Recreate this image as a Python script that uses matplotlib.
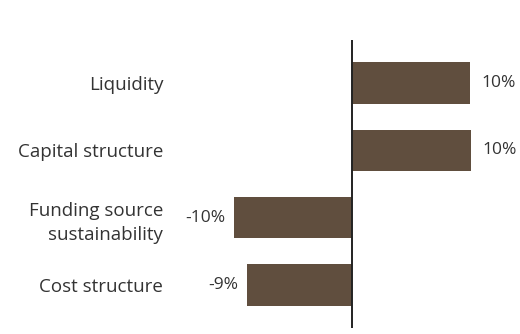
import matplotlib.pyplot as plt

categories = ['Liquidity', 'Capital structure', 'Funding source\nsustainability', 'Cost structure']
values = [10.0, 10.1, -10.0, -8.9]
value_labels = ['10%', '10%', '-10%', '-9%']

plt.rcParams['font.family'] = ['Open Sans', 'DejaVu Sans']

fig = plt.figure(figsize=(5.2, 3.34), dpi=100)
ax = fig.add_axes([180 / 520, 6 / 334, 340 / 520, 288 / 334])

pos = list(range(len(categories)))
bars = ax.barh(pos, values, height=0.61, color='#604e3e')
ax.axvline(0, color='#222222', linewidth=1.4)

for b, v, lab in zip(bars, values, value_labels):
    y = b.get_y() + b.get_height() / 2
    if v >= 0:
        ax.annotate(lab, (v, y), xytext=(8, 0), textcoords='offset points',
                    ha='left', va='center', fontsize=12.5, color='#333333')
    else:
        ax.annotate(lab, (v, y), xytext=(-6, 0), textcoords='offset points',
                    ha='right', va='center', fontsize=12.5, color='#333333')

ax.set_xlim(-14.58, 14.24)
ax.set_ylim(3.639, -0.639)
ax.set_yticks(pos)
ax.set_yticklabels(categories, fontsize=13.5, color='#333333', ha='right',
                   linespacing=1.45)
ax.tick_params(axis='y', length=0, pad=12)
ax.set_xticks([])
for s in ax.spines.values():
    s.set_visible(False)

fig.savefig('out.png', dpi=100)
